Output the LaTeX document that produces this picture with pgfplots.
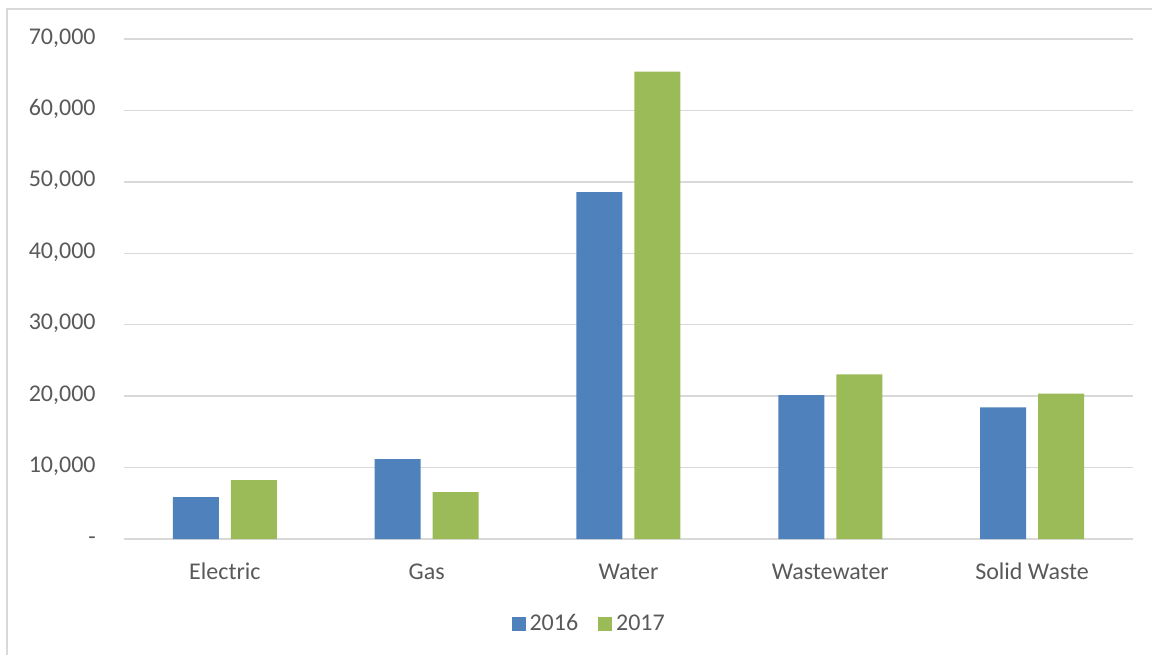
\documentclass[border=0pt]{standalone}
\usepackage{fontspec}
\setmainfont{Carlito}
\usepackage{pgfplots}
\pgfplotsset{compat=1.18}
\definecolor{blu}{HTML}{4F81BD}
\definecolor{grn}{HTML}{9BBB59}
\definecolor{gridc}{HTML}{D9D9D9}
\definecolor{txt}{HTML}{595959}
\begin{document}
\begin{tikzpicture}
% 1 px of the reference = 0.5pt
\useasboundingbox (0,0) rectangle (576pt,327.5pt);
\draw[gridc, line width=0.75pt] (3.5pt,0pt) -- (3.5pt,323pt) -- (576pt,323pt);
\begin{axis}[
  at={(62pt,58pt)}, anchor=south west,
  scale only axis, width=504.5pt, height=250pt,
  font=\fontsize{12}{14}\selectfont,
  ybar, bar width=23pt,
  xmin=-0.5, xmax=4.5, ymin=0, ymax=70000,
  scaled y ticks=false,
  axis line style={draw=none},
  major tick length=0pt,
  ymajorgrids, grid style={gridc, line width=0.75pt},
  xtick={0,1,2,3,4},
  xticklabels={Electric, Gas, Water, Wastewater, Solid Waste},
  ytick={0,10000,20000,30000,40000,50000,60000,70000},
  yticklabels={{-\hspace{6pt}},{10,000},{20,000},{30,000},{40,000},{50,000},{60,000},{70,000}},
  yticklabel style={anchor=base east, inner sep=0pt, xshift=-14pt, yshift=-2.5pt, text=txt},
  xticklabel style={anchor=base, inner sep=0pt, yshift=-20pt, text=txt},
  legend style={at={(0.462,-0.17)}, anchor=center, draw=none, legend columns=2,
    text=txt, /tikz/every even column/.append style={column sep=8pt}},
  legend image code/.code={\fill[#1] (0pt,-3.5pt) rectangle (7pt,3.5pt);},
]
\addplot[fill=blu, draw=none, bar shift=-14.5pt] coordinates {(0,5850) (1,11180) (2,48570) (3,20150) (4,18430)};
\addplot[fill=grn, draw=none, bar shift=14.5pt] coordinates {(0,8230) (1,6550) (2,65450) (3,23050) (4,20340)};
\legend{2016, 2017}
\end{axis}
\end{tikzpicture}
\end{document}
